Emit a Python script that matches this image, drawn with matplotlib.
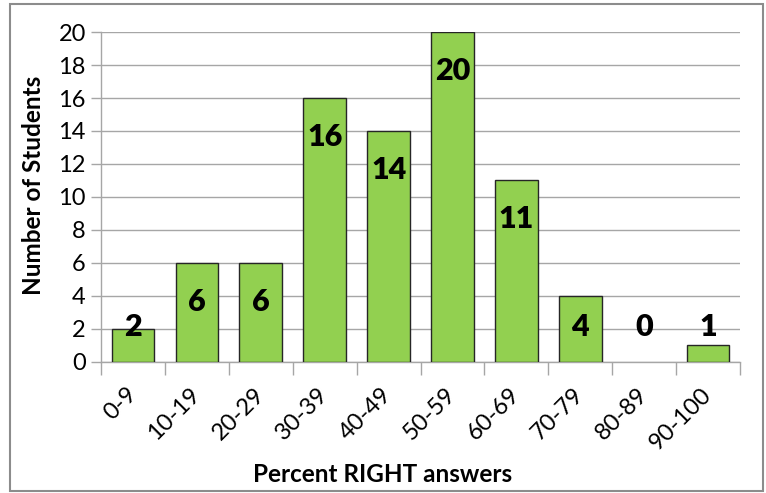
import matplotlib
matplotlib.use("Agg")
from matplotlib import pyplot as plt
from matplotlib.patches import Rectangle
from matplotlib.transforms import ScaledTranslation
import numpy as np

# score ranges and how many students fell in each
ranges = ["0-9", "10-19", "20-29", "30-39", "40-49",
          "50-59", "60-69", "70-79", "80-89", "90-100"]
students = [2, 6, 6, 16, 14, 20, 11, 4, 0, 1]

plt.rcParams['font.family'] = ['Lato', 'DejaVu Sans']

fig = plt.figure(figsize=(7.66, 4.93), dpi=100)
ax = fig.add_axes([0.132, 0.266, 0.834, 0.669])

x = np.arange(len(ranges))
# empty bins get no outline at all
edges = [1.0 if v > 0 else 0.0 for v in students]
ax.bar(x, students, width=0.67, color="#92D050", edgecolor="#262626",
       linewidth=edges, zorder=3)

# labels sit inside the top of each bar, but never lower than a minimum height
for xi, v in zip(x, students):
    ypos = max(v - 2.36, 2.12)
    ax.text(xi, ypos, str(v), ha="center", va="center", fontsize=22,
            fontweight="heavy", color="black", zorder=4)

ax.set_xlim(-0.5, len(ranges) - 0.5)
ax.set_ylim(0, 20)
ax.set_yticks(np.arange(0, 21, 2))
ax.yaxis.grid(True, color="#a6a6a6", linewidth=1.0, zorder=0)

ax.set_xticks(x)
ax.set_xticklabels(ranges, rotation=45, ha="right", va="center",
                   rotation_mode="anchor", fontsize=17)
shift = ScaledTranslation(0.08, 0, fig.dpi_scale_trans)
for lab in ax.get_xticklabels():
    lab.set_transform(lab.get_transform() + shift)
ax.set_xticks(np.arange(-0.5, len(ranges)), minor=True)
ax.tick_params(axis="x", which="major", length=0, pad=21)
ax.tick_params(axis="x", which="minor", length=9, color="#a6a6a6", width=1.0)
ax.tick_params(axis="y", length=7, color="#a6a6a6", width=1.0, labelsize=17,
               pad=4)

for s in ["top", "right"]:
    ax.spines[s].set_visible(False)
for s in ["left", "bottom"]:
    ax.spines[s].set_color("#a6a6a6")
    ax.spines[s].set_linewidth(1.0)

ax.set_ylabel("Number of Students", fontsize=17.5, fontweight="bold")
ax.yaxis.set_label_coords(34 / 766, 1 - 185 / 493, transform=fig.transFigure)
ax.set_xlabel("Percent RIGHT answers", fontsize=17.5, fontweight="bold")
ax.xaxis.set_label_coords(0.5, 1 - 475 / 493, transform=fig.transFigure)
ax.xaxis.label.set_va("center")
ax.yaxis.label.set_va("center")

# grey frame round the whole chart
fig.patches.append(Rectangle((10 / 766, 2 / 493), 753 / 766, 487 / 493,
                             transform=fig.transFigure, fill=False,
                             edgecolor="#8c8c8c", linewidth=1.5))

fig.savefig("out.png", dpi=100)
